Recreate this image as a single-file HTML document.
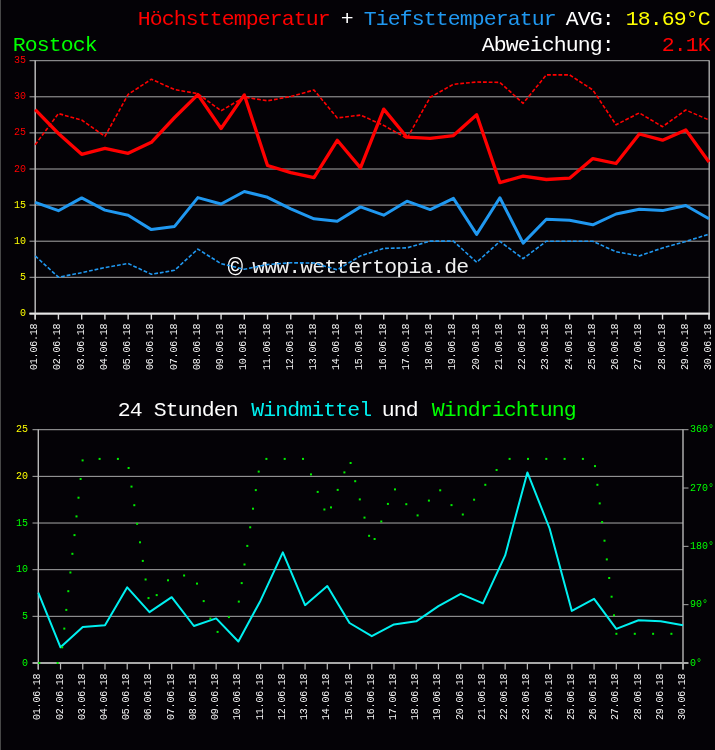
<!DOCTYPE html>
<html><head><meta charset="utf-8"><title>Rostock Temperatur und Wind</title>
<style>
html,body{margin:0;padding:0;background:#040206;}
body{width:715px;height:750px;overflow:hidden;}
svg{display:block;font-family:'Liberation Mono', 'DejaVu Sans Mono', monospace;}
</style></head><body>
<svg width="715" height="750" viewBox="0 0 715 750">
<rect x="0" y="0" width="715" height="750" fill="#040206"/>
<rect x="0" y="0" width="1" height="750" fill="#474747"/>
<line x1="29.5" y1="277.30" x2="709.5" y2="277.30" stroke="#a8a8a8" stroke-width="1"/>
<line x1="29.5" y1="241.20" x2="709.5" y2="241.20" stroke="#a8a8a8" stroke-width="1"/>
<line x1="29.5" y1="205.10" x2="709.5" y2="205.10" stroke="#a8a8a8" stroke-width="1"/>
<line x1="29.5" y1="169.00" x2="709.5" y2="169.00" stroke="#a8a8a8" stroke-width="1"/>
<line x1="29.5" y1="132.90" x2="709.5" y2="132.90" stroke="#a8a8a8" stroke-width="1"/>
<line x1="29.5" y1="96.80" x2="709.5" y2="96.80" stroke="#a8a8a8" stroke-width="1"/>
<line x1="29.5" y1="60.70" x2="709.5" y2="60.70" stroke="#a8a8a8" stroke-width="1"/>
<line x1="35.2" y1="60.5" x2="35.2" y2="319.5" stroke="#b8b8b8" stroke-width="1.5"/>
<line x1="709.2" y1="60.5" x2="709.2" y2="319.5" stroke="#b8b8b8" stroke-width="1.3"/>
<line x1="29.5" y1="313.6" x2="710" y2="313.6" stroke="#d0d0d0" stroke-width="2.2"/>
<line x1="29.5" y1="313.6" x2="710" y2="313.6" stroke="#ffffff" stroke-width="1.2" stroke-dasharray="1 1"/>
<line x1="35.20" y1="313" x2="35.20" y2="319.5" stroke="#dcdcdc" stroke-width="1.4"/>
<line x1="58.43" y1="313" x2="58.43" y2="319.5" stroke="#dcdcdc" stroke-width="1.4"/>
<line x1="81.67" y1="313" x2="81.67" y2="319.5" stroke="#dcdcdc" stroke-width="1.4"/>
<line x1="104.90" y1="313" x2="104.90" y2="319.5" stroke="#dcdcdc" stroke-width="1.4"/>
<line x1="128.14" y1="313" x2="128.14" y2="319.5" stroke="#dcdcdc" stroke-width="1.4"/>
<line x1="151.37" y1="313" x2="151.37" y2="319.5" stroke="#dcdcdc" stroke-width="1.4"/>
<line x1="174.61" y1="313" x2="174.61" y2="319.5" stroke="#dcdcdc" stroke-width="1.4"/>
<line x1="197.84" y1="313" x2="197.84" y2="319.5" stroke="#dcdcdc" stroke-width="1.4"/>
<line x1="221.08" y1="313" x2="221.08" y2="319.5" stroke="#dcdcdc" stroke-width="1.4"/>
<line x1="244.31" y1="313" x2="244.31" y2="319.5" stroke="#dcdcdc" stroke-width="1.4"/>
<line x1="267.54" y1="313" x2="267.54" y2="319.5" stroke="#dcdcdc" stroke-width="1.4"/>
<line x1="290.78" y1="313" x2="290.78" y2="319.5" stroke="#dcdcdc" stroke-width="1.4"/>
<line x1="314.01" y1="313" x2="314.01" y2="319.5" stroke="#dcdcdc" stroke-width="1.4"/>
<line x1="337.25" y1="313" x2="337.25" y2="319.5" stroke="#dcdcdc" stroke-width="1.4"/>
<line x1="360.48" y1="313" x2="360.48" y2="319.5" stroke="#dcdcdc" stroke-width="1.4"/>
<line x1="383.72" y1="313" x2="383.72" y2="319.5" stroke="#dcdcdc" stroke-width="1.4"/>
<line x1="406.95" y1="313" x2="406.95" y2="319.5" stroke="#dcdcdc" stroke-width="1.4"/>
<line x1="430.19" y1="313" x2="430.19" y2="319.5" stroke="#dcdcdc" stroke-width="1.4"/>
<line x1="453.42" y1="313" x2="453.42" y2="319.5" stroke="#dcdcdc" stroke-width="1.4"/>
<line x1="476.66" y1="313" x2="476.66" y2="319.5" stroke="#dcdcdc" stroke-width="1.4"/>
<line x1="499.89" y1="313" x2="499.89" y2="319.5" stroke="#dcdcdc" stroke-width="1.4"/>
<line x1="523.12" y1="313" x2="523.12" y2="319.5" stroke="#dcdcdc" stroke-width="1.4"/>
<line x1="546.36" y1="313" x2="546.36" y2="319.5" stroke="#dcdcdc" stroke-width="1.4"/>
<line x1="569.59" y1="313" x2="569.59" y2="319.5" stroke="#dcdcdc" stroke-width="1.4"/>
<line x1="592.83" y1="313" x2="592.83" y2="319.5" stroke="#dcdcdc" stroke-width="1.4"/>
<line x1="616.06" y1="313" x2="616.06" y2="319.5" stroke="#dcdcdc" stroke-width="1.4"/>
<line x1="639.30" y1="313" x2="639.30" y2="319.5" stroke="#dcdcdc" stroke-width="1.4"/>
<line x1="662.53" y1="313" x2="662.53" y2="319.5" stroke="#dcdcdc" stroke-width="1.4"/>
<line x1="685.77" y1="313" x2="685.77" y2="319.5" stroke="#dcdcdc" stroke-width="1.4"/>
<line x1="709.00" y1="313" x2="709.00" y2="319.5" stroke="#dcdcdc" stroke-width="1.4"/>
<text x="227.5" y="275.5" fill="#ffffff" font-size="26">©</text>
<text transform="translate(252.3,272.5) scale(1,0.96)" fill="#f0f0f0" font-size="21.5" letter-spacing="-0.9">www.wettertopia.de</text>
<polyline points="35.20,144.70 58.43,113.60 81.67,120.00 104.90,136.40 128.14,94.40 151.37,79.20 174.61,89.60 197.84,93.60 221.08,110.80 244.31,97.10 267.54,100.80 290.78,96.50 314.01,90.00 337.25,117.90 360.48,115.10 383.72,125.40 406.95,138.40 430.19,97.30 453.42,84.30 476.66,82.00 499.89,82.40 523.12,103.30 546.36,74.90 569.59,74.90 592.83,90.00 616.06,124.80 639.30,112.90 662.53,126.70 685.77,110.00 709.00,120.00" fill="none" stroke="#ff0000" stroke-width="1.6" stroke-dasharray="3.8 1.9" stroke-linejoin="round"/>
<polyline points="35.20,255.90 58.43,277.20 81.67,272.70 104.90,267.60 128.14,263.50 151.37,274.30 174.61,270.30 197.84,249.10 221.08,263.70 244.31,269.30 267.54,264.50 290.78,262.80 314.01,263.00 337.25,269.80 360.48,255.90 383.72,248.40 406.95,247.90 430.19,241.10 453.42,241.10 476.66,262.30 499.89,241.40 523.12,258.70 546.36,241.20 569.59,241.20 592.83,241.30 616.06,251.80 639.30,255.90 662.53,248.00 685.77,241.40 709.00,234.20" fill="none" stroke="#2098f0" stroke-width="1.6" stroke-dasharray="3.8 1.9" stroke-linejoin="round"/>
<polyline points="35.20,109.60 58.43,133.50 81.67,154.30 104.90,148.40 128.14,153.30 151.37,142.30 174.61,117.50 197.84,94.60 221.08,128.50 244.31,94.90 267.54,165.50 290.78,172.70 314.01,177.60 337.25,140.30 360.48,167.90 383.72,109.10 406.95,137.20 430.19,138.40 453.42,135.60 476.66,114.70 499.89,182.60 523.12,176.20 546.36,179.50 569.59,178.20 592.83,158.60 616.06,163.50 639.30,134.00 662.53,140.20 685.77,129.90 709.00,162.00" fill="none" stroke="#ff0000" stroke-width="3.3" stroke-linejoin="round"/>
<polyline points="35.20,202.40 58.43,210.70 81.67,197.90 104.90,210.10 128.14,215.30 151.37,229.60 174.61,226.40 197.84,197.60 221.08,204.00 244.31,191.50 267.54,197.30 290.78,208.80 314.01,218.80 337.25,221.20 360.48,206.90 383.72,215.20 406.95,201.20 430.19,209.60 453.42,198.40 476.66,234.40 499.89,197.80 523.12,243.10 546.36,219.20 569.59,220.30 592.83,224.80 616.06,214.00 639.30,209.30 662.53,210.60 685.77,205.50 709.00,218.70" fill="none" stroke="#2098f0" stroke-width="3" stroke-linejoin="round"/>
<line x1="32.5" y1="616.34" x2="683" y2="616.34" stroke="#a8a8a8" stroke-width="1"/>
<line x1="32.5" y1="569.68" x2="683" y2="569.68" stroke="#a8a8a8" stroke-width="1"/>
<line x1="32.5" y1="523.02" x2="683" y2="523.02" stroke="#a8a8a8" stroke-width="1"/>
<line x1="32.5" y1="476.36" x2="683" y2="476.36" stroke="#a8a8a8" stroke-width="1"/>
<line x1="32.5" y1="429.70" x2="683" y2="429.70" stroke="#a8a8a8" stroke-width="1"/>
<line x1="38.3" y1="429.5" x2="38.3" y2="669.5" stroke="#b8b8b8" stroke-width="1.4"/>
<line x1="683.0" y1="429.5" x2="683.0" y2="669.5" stroke="#b8b8b8" stroke-width="1.4"/>
<line x1="32.5" y1="663" x2="688.5" y2="663" stroke="#a8a8a8" stroke-width="2"/>
<line x1="683" y1="604.67" x2="688.5" y2="604.67" stroke="#a8a8a8" stroke-width="1"/>
<line x1="683" y1="546.35" x2="688.5" y2="546.35" stroke="#a8a8a8" stroke-width="1"/>
<line x1="683" y1="488.02" x2="688.5" y2="488.02" stroke="#a8a8a8" stroke-width="1"/>
<line x1="683" y1="429.70" x2="688.5" y2="429.70" stroke="#a8a8a8" stroke-width="1"/>
<line x1="38.30" y1="663" x2="38.30" y2="669.5" stroke="#b8b8b8" stroke-width="1.2"/>
<line x1="60.53" y1="663" x2="60.53" y2="669.5" stroke="#b8b8b8" stroke-width="1.2"/>
<line x1="82.76" y1="663" x2="82.76" y2="669.5" stroke="#b8b8b8" stroke-width="1.2"/>
<line x1="104.99" y1="663" x2="104.99" y2="669.5" stroke="#b8b8b8" stroke-width="1.2"/>
<line x1="127.22" y1="663" x2="127.22" y2="669.5" stroke="#b8b8b8" stroke-width="1.2"/>
<line x1="149.46" y1="663" x2="149.46" y2="669.5" stroke="#b8b8b8" stroke-width="1.2"/>
<line x1="171.69" y1="663" x2="171.69" y2="669.5" stroke="#b8b8b8" stroke-width="1.2"/>
<line x1="193.92" y1="663" x2="193.92" y2="669.5" stroke="#b8b8b8" stroke-width="1.2"/>
<line x1="216.15" y1="663" x2="216.15" y2="669.5" stroke="#b8b8b8" stroke-width="1.2"/>
<line x1="238.38" y1="663" x2="238.38" y2="669.5" stroke="#b8b8b8" stroke-width="1.2"/>
<line x1="260.61" y1="663" x2="260.61" y2="669.5" stroke="#b8b8b8" stroke-width="1.2"/>
<line x1="282.84" y1="663" x2="282.84" y2="669.5" stroke="#b8b8b8" stroke-width="1.2"/>
<line x1="305.07" y1="663" x2="305.07" y2="669.5" stroke="#b8b8b8" stroke-width="1.2"/>
<line x1="327.30" y1="663" x2="327.30" y2="669.5" stroke="#b8b8b8" stroke-width="1.2"/>
<line x1="349.53" y1="663" x2="349.53" y2="669.5" stroke="#b8b8b8" stroke-width="1.2"/>
<line x1="371.77" y1="663" x2="371.77" y2="669.5" stroke="#b8b8b8" stroke-width="1.2"/>
<line x1="394.00" y1="663" x2="394.00" y2="669.5" stroke="#b8b8b8" stroke-width="1.2"/>
<line x1="416.23" y1="663" x2="416.23" y2="669.5" stroke="#b8b8b8" stroke-width="1.2"/>
<line x1="438.46" y1="663" x2="438.46" y2="669.5" stroke="#b8b8b8" stroke-width="1.2"/>
<line x1="460.69" y1="663" x2="460.69" y2="669.5" stroke="#b8b8b8" stroke-width="1.2"/>
<line x1="482.92" y1="663" x2="482.92" y2="669.5" stroke="#b8b8b8" stroke-width="1.2"/>
<line x1="505.15" y1="663" x2="505.15" y2="669.5" stroke="#b8b8b8" stroke-width="1.2"/>
<line x1="527.38" y1="663" x2="527.38" y2="669.5" stroke="#b8b8b8" stroke-width="1.2"/>
<line x1="549.61" y1="663" x2="549.61" y2="669.5" stroke="#b8b8b8" stroke-width="1.2"/>
<line x1="571.84" y1="663" x2="571.84" y2="669.5" stroke="#b8b8b8" stroke-width="1.2"/>
<line x1="594.08" y1="663" x2="594.08" y2="669.5" stroke="#b8b8b8" stroke-width="1.2"/>
<line x1="616.31" y1="663" x2="616.31" y2="669.5" stroke="#b8b8b8" stroke-width="1.2"/>
<line x1="638.54" y1="663" x2="638.54" y2="669.5" stroke="#b8b8b8" stroke-width="1.2"/>
<line x1="660.77" y1="663" x2="660.77" y2="669.5" stroke="#b8b8b8" stroke-width="1.2"/>
<line x1="683.00" y1="663" x2="683.00" y2="669.5" stroke="#b8b8b8" stroke-width="1.2"/>
<polyline points="38.30,592.60 60.53,647.30 82.76,627.00 104.99,625.20 127.22,587.30 149.46,612.20 171.69,597.20 193.92,626.00 216.15,618.40 238.38,641.50 260.61,600.40 282.84,552.40 305.07,605.20 327.30,586.10 349.53,623.00 371.77,636.20 394.00,624.40 416.23,621.30 438.46,606.10 460.69,593.80 482.92,603.40 505.15,555.40 527.38,472.40 549.61,528.50 571.84,610.90 594.08,598.90 616.31,628.90 638.54,620.30 660.77,621.30 683.00,625.30" fill="none" stroke="#00f0f0" stroke-width="2" stroke-linejoin="round"/>
<rect x="38.30" y="662.00" width="2" height="2" fill="#00ee00"/>
<rect x="56.60" y="662.00" width="2" height="2" fill="#00ee00"/>
<rect x="61.20" y="646.30" width="2" height="2" fill="#00ee00"/>
<rect x="63.30" y="627.60" width="2" height="2" fill="#00ee00"/>
<rect x="65.30" y="608.90" width="2" height="2" fill="#00ee00"/>
<rect x="67.30" y="590.20" width="2" height="2" fill="#00ee00"/>
<rect x="69.40" y="571.50" width="2" height="2" fill="#00ee00"/>
<rect x="71.40" y="552.80" width="2" height="2" fill="#00ee00"/>
<rect x="73.50" y="534.10" width="2" height="2" fill="#00ee00"/>
<rect x="75.50" y="515.40" width="2" height="2" fill="#00ee00"/>
<rect x="77.50" y="496.70" width="2" height="2" fill="#00ee00"/>
<rect x="79.60" y="478.00" width="2" height="2" fill="#00ee00"/>
<rect x="81.60" y="459.40" width="2" height="2" fill="#00ee00"/>
<rect x="98.60" y="457.90" width="2" height="2" fill="#00ee00"/>
<rect x="116.90" y="457.90" width="2" height="2" fill="#00ee00"/>
<rect x="127.60" y="467.00" width="2" height="2" fill="#00ee00"/>
<rect x="130.50" y="485.60" width="2" height="2" fill="#00ee00"/>
<rect x="133.30" y="504.20" width="2" height="2" fill="#00ee00"/>
<rect x="136.10" y="522.80" width="2" height="2" fill="#00ee00"/>
<rect x="139.00" y="541.30" width="2" height="2" fill="#00ee00"/>
<rect x="141.80" y="559.90" width="2" height="2" fill="#00ee00"/>
<rect x="144.60" y="578.50" width="2" height="2" fill="#00ee00"/>
<rect x="147.50" y="597.10" width="2" height="2" fill="#00ee00"/>
<rect x="155.70" y="594.10" width="2" height="2" fill="#00ee00"/>
<rect x="167.00" y="579.30" width="2" height="2" fill="#00ee00"/>
<rect x="183.10" y="574.50" width="2" height="2" fill="#00ee00"/>
<rect x="196.00" y="582.60" width="2" height="2" fill="#00ee00"/>
<rect x="202.70" y="600.10" width="2" height="2" fill="#00ee00"/>
<rect x="209.40" y="617.60" width="2" height="2" fill="#00ee00"/>
<rect x="216.60" y="630.90" width="2" height="2" fill="#00ee00"/>
<rect x="227.90" y="616.10" width="2" height="2" fill="#00ee00"/>
<rect x="237.80" y="600.60" width="2" height="2" fill="#00ee00"/>
<rect x="240.70" y="582.10" width="2" height="2" fill="#00ee00"/>
<rect x="243.50" y="563.50" width="2" height="2" fill="#00ee00"/>
<rect x="246.30" y="544.90" width="2" height="2" fill="#00ee00"/>
<rect x="249.20" y="526.30" width="2" height="2" fill="#00ee00"/>
<rect x="252.00" y="507.70" width="2" height="2" fill="#00ee00"/>
<rect x="254.80" y="489.10" width="2" height="2" fill="#00ee00"/>
<rect x="257.70" y="470.60" width="2" height="2" fill="#00ee00"/>
<rect x="265.40" y="457.90" width="2" height="2" fill="#00ee00"/>
<rect x="283.70" y="457.90" width="2" height="2" fill="#00ee00"/>
<rect x="302.00" y="457.90" width="2" height="2" fill="#00ee00"/>
<rect x="310.00" y="473.40" width="2" height="2" fill="#00ee00"/>
<rect x="316.70" y="490.90" width="2" height="2" fill="#00ee00"/>
<rect x="323.40" y="508.50" width="2" height="2" fill="#00ee00"/>
<rect x="330.00" y="506.40" width="2" height="2" fill="#00ee00"/>
<rect x="336.70" y="488.90" width="2" height="2" fill="#00ee00"/>
<rect x="343.40" y="471.40" width="2" height="2" fill="#00ee00"/>
<rect x="349.60" y="462.00" width="2" height="2" fill="#00ee00"/>
<rect x="354.20" y="480.20" width="2" height="2" fill="#00ee00"/>
<rect x="358.80" y="498.40" width="2" height="2" fill="#00ee00"/>
<rect x="363.50" y="516.60" width="2" height="2" fill="#00ee00"/>
<rect x="368.10" y="534.80" width="2" height="2" fill="#00ee00"/>
<rect x="373.60" y="538.00" width="2" height="2" fill="#00ee00"/>
<rect x="380.30" y="520.50" width="2" height="2" fill="#00ee00"/>
<rect x="386.90" y="502.90" width="2" height="2" fill="#00ee00"/>
<rect x="394.00" y="488.40" width="2" height="2" fill="#00ee00"/>
<rect x="405.30" y="503.20" width="2" height="2" fill="#00ee00"/>
<rect x="416.60" y="514.40" width="2" height="2" fill="#00ee00"/>
<rect x="427.90" y="499.60" width="2" height="2" fill="#00ee00"/>
<rect x="439.20" y="489.30" width="2" height="2" fill="#00ee00"/>
<rect x="450.50" y="504.10" width="2" height="2" fill="#00ee00"/>
<rect x="461.80" y="513.50" width="2" height="2" fill="#00ee00"/>
<rect x="473.10" y="498.70" width="2" height="2" fill="#00ee00"/>
<rect x="484.30" y="483.80" width="2" height="2" fill="#00ee00"/>
<rect x="495.60" y="469.00" width="2" height="2" fill="#00ee00"/>
<rect x="508.60" y="457.90" width="2" height="2" fill="#00ee00"/>
<rect x="527.00" y="457.90" width="2" height="2" fill="#00ee00"/>
<rect x="545.30" y="457.90" width="2" height="2" fill="#00ee00"/>
<rect x="563.60" y="457.90" width="2" height="2" fill="#00ee00"/>
<rect x="581.90" y="457.90" width="2" height="2" fill="#00ee00"/>
<rect x="594.00" y="465.10" width="2" height="2" fill="#00ee00"/>
<rect x="596.40" y="483.80" width="2" height="2" fill="#00ee00"/>
<rect x="598.70" y="502.40" width="2" height="2" fill="#00ee00"/>
<rect x="601.10" y="521.10" width="2" height="2" fill="#00ee00"/>
<rect x="603.50" y="539.70" width="2" height="2" fill="#00ee00"/>
<rect x="605.80" y="558.40" width="2" height="2" fill="#00ee00"/>
<rect x="608.20" y="577.00" width="2" height="2" fill="#00ee00"/>
<rect x="610.60" y="595.70" width="2" height="2" fill="#00ee00"/>
<rect x="613.00" y="614.30" width="2" height="2" fill="#00ee00"/>
<rect x="615.40" y="632.80" width="2" height="2" fill="#00ee00"/>
<rect x="633.80" y="632.80" width="2" height="2" fill="#00ee00"/>
<rect x="652.10" y="632.80" width="2" height="2" fill="#00ee00"/>
<rect x="670.40" y="632.80" width="2" height="2" fill="#00ee00"/>
<text transform="translate(137.78,25.00) scale(1,0.960)" fill="#ff0000" font-size="21.50" letter-spacing="-0.90" >Höchsttemperatur</text>
<text transform="translate(340.77,25.00) scale(1,0.960)" fill="#ffffff" font-size="21.50" letter-spacing="-0.90" >+</text>
<text transform="translate(363.77,25.00) scale(1,0.960)" fill="#2098f0" font-size="21.50" letter-spacing="-0.90" >Tiefsttemperatur</text>
<text transform="translate(565.77,25.00) scale(1,0.960)" fill="#ffffff" font-size="21.50" letter-spacing="-0.90" >AVG:</text>
<text transform="translate(625.77,25.00) scale(1,0.960)" fill="#ffff00" font-size="21.50" letter-spacing="-0.90" >18.69°C</text>
<text transform="translate(12.78,51.00) scale(1,0.960)" fill="#00ff00" font-size="21.50" letter-spacing="-0.90" >Rostock</text>
<text transform="translate(481.77,51.00) scale(1,0.960)" fill="#ffffff" font-size="21.50" letter-spacing="-0.90" >Abweichung:</text>
<text transform="translate(661.77,51.00) scale(1,0.960)" fill="#ff0000" font-size="21.50" letter-spacing="-0.90" >2.1K</text>
<text x="20.00" y="315.90" fill="#ffff00" font-size="10.00" >0</text>
<text x="20.00" y="279.80" fill="#ffff00" font-size="10.00" >5</text>
<text x="14.00" y="243.70" fill="#ffff00" font-size="10.00" >10</text>
<text x="14.00" y="207.60" fill="#ffff00" font-size="10.00" >15</text>
<text x="14.00" y="171.50" fill="#ff0000" font-size="10.00" >20</text>
<text x="14.00" y="135.40" fill="#ff0000" font-size="10.00" >25</text>
<text x="14.00" y="99.30" fill="#ff0000" font-size="10.00" >30</text>
<text x="14.00" y="63.20" fill="#ff0000" font-size="10.00" >35</text>
<text transform="translate(37.20,370) rotate(-90)" fill="#f4f4f4" font-size="10.00" letter-spacing="-0.2">01.06.18</text>
<text transform="translate(60.43,370) rotate(-90)" fill="#f4f4f4" font-size="10.00" letter-spacing="-0.2">02.06.18</text>
<text transform="translate(83.67,370) rotate(-90)" fill="#f4f4f4" font-size="10.00" letter-spacing="-0.2">03.06.18</text>
<text transform="translate(106.90,370) rotate(-90)" fill="#f4f4f4" font-size="10.00" letter-spacing="-0.2">04.06.18</text>
<text transform="translate(130.14,370) rotate(-90)" fill="#f4f4f4" font-size="10.00" letter-spacing="-0.2">05.06.18</text>
<text transform="translate(153.37,370) rotate(-90)" fill="#f4f4f4" font-size="10.00" letter-spacing="-0.2">06.06.18</text>
<text transform="translate(176.61,370) rotate(-90)" fill="#f4f4f4" font-size="10.00" letter-spacing="-0.2">07.06.18</text>
<text transform="translate(199.84,370) rotate(-90)" fill="#f4f4f4" font-size="10.00" letter-spacing="-0.2">08.06.18</text>
<text transform="translate(223.08,370) rotate(-90)" fill="#f4f4f4" font-size="10.00" letter-spacing="-0.2">09.06.18</text>
<text transform="translate(246.31,370) rotate(-90)" fill="#f4f4f4" font-size="10.00" letter-spacing="-0.2">10.06.18</text>
<text transform="translate(269.54,370) rotate(-90)" fill="#f4f4f4" font-size="10.00" letter-spacing="-0.2">11.06.18</text>
<text transform="translate(292.78,370) rotate(-90)" fill="#f4f4f4" font-size="10.00" letter-spacing="-0.2">12.06.18</text>
<text transform="translate(316.01,370) rotate(-90)" fill="#f4f4f4" font-size="10.00" letter-spacing="-0.2">13.06.18</text>
<text transform="translate(339.25,370) rotate(-90)" fill="#f4f4f4" font-size="10.00" letter-spacing="-0.2">14.06.18</text>
<text transform="translate(362.48,370) rotate(-90)" fill="#f4f4f4" font-size="10.00" letter-spacing="-0.2">15.06.18</text>
<text transform="translate(385.72,370) rotate(-90)" fill="#f4f4f4" font-size="10.00" letter-spacing="-0.2">16.06.18</text>
<text transform="translate(408.95,370) rotate(-90)" fill="#f4f4f4" font-size="10.00" letter-spacing="-0.2">17.06.18</text>
<text transform="translate(432.19,370) rotate(-90)" fill="#f4f4f4" font-size="10.00" letter-spacing="-0.2">18.06.18</text>
<text transform="translate(455.42,370) rotate(-90)" fill="#f4f4f4" font-size="10.00" letter-spacing="-0.2">19.06.18</text>
<text transform="translate(478.66,370) rotate(-90)" fill="#f4f4f4" font-size="10.00" letter-spacing="-0.2">20.06.18</text>
<text transform="translate(501.89,370) rotate(-90)" fill="#f4f4f4" font-size="10.00" letter-spacing="-0.2">21.06.18</text>
<text transform="translate(525.12,370) rotate(-90)" fill="#f4f4f4" font-size="10.00" letter-spacing="-0.2">22.06.18</text>
<text transform="translate(548.36,370) rotate(-90)" fill="#f4f4f4" font-size="10.00" letter-spacing="-0.2">23.06.18</text>
<text transform="translate(571.59,370) rotate(-90)" fill="#f4f4f4" font-size="10.00" letter-spacing="-0.2">24.06.18</text>
<text transform="translate(594.83,370) rotate(-90)" fill="#f4f4f4" font-size="10.00" letter-spacing="-0.2">25.06.18</text>
<text transform="translate(618.06,370) rotate(-90)" fill="#f4f4f4" font-size="10.00" letter-spacing="-0.2">26.06.18</text>
<text transform="translate(641.30,370) rotate(-90)" fill="#f4f4f4" font-size="10.00" letter-spacing="-0.2">27.06.18</text>
<text transform="translate(664.53,370) rotate(-90)" fill="#f4f4f4" font-size="10.00" letter-spacing="-0.2">28.06.18</text>
<text transform="translate(687.77,370) rotate(-90)" fill="#f4f4f4" font-size="10.00" letter-spacing="-0.2">29.06.18</text>
<text transform="translate(711.00,370) rotate(-90)" fill="#f4f4f4" font-size="10.00" letter-spacing="-0.2">30.06.18</text>
<text transform="translate(117.78,416.00) scale(1,0.960)" fill="#ffffff" font-size="21.50" letter-spacing="-0.90" >24 Stunden</text>
<text transform="translate(251.28,416.00) scale(1,0.960)" fill="#00f0f0" font-size="21.50" letter-spacing="-0.90" >Windmittel</text>
<text transform="translate(381.77,416.00) scale(1,0.960)" fill="#ffffff" font-size="21.50" letter-spacing="-0.90" >und</text>
<text transform="translate(431.77,416.00) scale(1,0.960)" fill="#00ff00" font-size="21.50" letter-spacing="-0.90" >Windrichtung</text>
<text x="22.00" y="665.50" fill="#00ff00" font-size="10.00" >0</text>
<text x="22.00" y="618.84" fill="#00ff00" font-size="10.00" >5</text>
<text x="16.00" y="572.18" fill="#00ff00" font-size="10.00" >10</text>
<text x="16.00" y="525.52" fill="#00ff00" font-size="10.00" >15</text>
<text x="16.00" y="478.86" fill="#ffff00" font-size="10.00" >20</text>
<text x="16.00" y="432.20" fill="#ffff00" font-size="10.00" >25</text>
<text x="690.00" y="665.50" fill="#00ff00" font-size="10.00" >0°</text>
<text x="690.00" y="607.17" fill="#00ff00" font-size="10.00" >90°</text>
<text x="690.00" y="548.85" fill="#00ff00" font-size="10.00" >180°</text>
<text x="690.00" y="490.52" fill="#00ff00" font-size="10.00" >270°</text>
<text x="690.00" y="432.20" fill="#00ff00" font-size="10.00" >360°</text>
<text transform="translate(40.30,720) rotate(-90)" fill="#f4f4f4" font-size="10.00" letter-spacing="-0.2">01.06.18</text>
<text transform="translate(62.53,720) rotate(-90)" fill="#f4f4f4" font-size="10.00" letter-spacing="-0.2">02.06.18</text>
<text transform="translate(84.76,720) rotate(-90)" fill="#f4f4f4" font-size="10.00" letter-spacing="-0.2">03.06.18</text>
<text transform="translate(106.99,720) rotate(-90)" fill="#f4f4f4" font-size="10.00" letter-spacing="-0.2">04.06.18</text>
<text transform="translate(129.22,720) rotate(-90)" fill="#f4f4f4" font-size="10.00" letter-spacing="-0.2">05.06.18</text>
<text transform="translate(151.46,720) rotate(-90)" fill="#f4f4f4" font-size="10.00" letter-spacing="-0.2">06.06.18</text>
<text transform="translate(173.69,720) rotate(-90)" fill="#f4f4f4" font-size="10.00" letter-spacing="-0.2">07.06.18</text>
<text transform="translate(195.92,720) rotate(-90)" fill="#f4f4f4" font-size="10.00" letter-spacing="-0.2">08.06.18</text>
<text transform="translate(218.15,720) rotate(-90)" fill="#f4f4f4" font-size="10.00" letter-spacing="-0.2">09.06.18</text>
<text transform="translate(240.38,720) rotate(-90)" fill="#f4f4f4" font-size="10.00" letter-spacing="-0.2">10.06.18</text>
<text transform="translate(262.61,720) rotate(-90)" fill="#f4f4f4" font-size="10.00" letter-spacing="-0.2">11.06.18</text>
<text transform="translate(284.84,720) rotate(-90)" fill="#f4f4f4" font-size="10.00" letter-spacing="-0.2">12.06.18</text>
<text transform="translate(307.07,720) rotate(-90)" fill="#f4f4f4" font-size="10.00" letter-spacing="-0.2">13.06.18</text>
<text transform="translate(329.30,720) rotate(-90)" fill="#f4f4f4" font-size="10.00" letter-spacing="-0.2">14.06.18</text>
<text transform="translate(351.53,720) rotate(-90)" fill="#f4f4f4" font-size="10.00" letter-spacing="-0.2">15.06.18</text>
<text transform="translate(373.77,720) rotate(-90)" fill="#f4f4f4" font-size="10.00" letter-spacing="-0.2">16.06.18</text>
<text transform="translate(396.00,720) rotate(-90)" fill="#f4f4f4" font-size="10.00" letter-spacing="-0.2">17.06.18</text>
<text transform="translate(418.23,720) rotate(-90)" fill="#f4f4f4" font-size="10.00" letter-spacing="-0.2">18.06.18</text>
<text transform="translate(440.46,720) rotate(-90)" fill="#f4f4f4" font-size="10.00" letter-spacing="-0.2">19.06.18</text>
<text transform="translate(462.69,720) rotate(-90)" fill="#f4f4f4" font-size="10.00" letter-spacing="-0.2">20.06.18</text>
<text transform="translate(484.92,720) rotate(-90)" fill="#f4f4f4" font-size="10.00" letter-spacing="-0.2">21.06.18</text>
<text transform="translate(507.15,720) rotate(-90)" fill="#f4f4f4" font-size="10.00" letter-spacing="-0.2">22.06.18</text>
<text transform="translate(529.38,720) rotate(-90)" fill="#f4f4f4" font-size="10.00" letter-spacing="-0.2">23.06.18</text>
<text transform="translate(551.61,720) rotate(-90)" fill="#f4f4f4" font-size="10.00" letter-spacing="-0.2">24.06.18</text>
<text transform="translate(573.84,720) rotate(-90)" fill="#f4f4f4" font-size="10.00" letter-spacing="-0.2">25.06.18</text>
<text transform="translate(596.08,720) rotate(-90)" fill="#f4f4f4" font-size="10.00" letter-spacing="-0.2">26.06.18</text>
<text transform="translate(618.31,720) rotate(-90)" fill="#f4f4f4" font-size="10.00" letter-spacing="-0.2">27.06.18</text>
<text transform="translate(640.54,720) rotate(-90)" fill="#f4f4f4" font-size="10.00" letter-spacing="-0.2">28.06.18</text>
<text transform="translate(662.77,720) rotate(-90)" fill="#f4f4f4" font-size="10.00" letter-spacing="-0.2">29.06.18</text>
<text transform="translate(685.00,720) rotate(-90)" fill="#f4f4f4" font-size="10.00" letter-spacing="-0.2">30.06.18</text>
</svg>
</body></html>
